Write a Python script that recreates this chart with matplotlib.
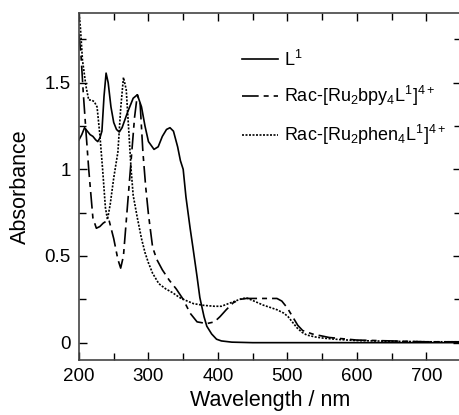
import matplotlib
matplotlib.use('Agg')
import matplotlib.pyplot as plt
from matplotlib.ticker import MultipleLocator

plt.rcParams['font.family'] = ['Liberation Sans', 'DejaVu Sans']
plt.rcParams['mathtext.fontset'] = 'custom'
plt.rcParams['mathtext.rm'] = 'Liberation Sans'
plt.rcParams['mathtext.it'] = 'Liberation Sans'

# L1 (solid)
wl_l1 = [200, 204, 208, 212, 216, 220, 224, 227, 230, 233, 236, 239, 242, 246, 250,
         254, 258, 262, 270, 278, 284, 290, 295, 300, 308, 314, 320, 326, 331, 336,
         342, 346, 350, 354, 360, 364, 370, 374, 380, 384, 391, 398, 405, 420, 450, 750]
abs_l1 = [1.17, 1.20, 1.24, 1.22, 1.20, 1.19, 1.17, 1.16, 1.18, 1.22, 1.42, 1.555, 1.50, 1.36, 1.27,
          1.23, 1.215, 1.24, 1.33, 1.41, 1.43, 1.36, 1.25, 1.16, 1.115, 1.13, 1.19, 1.23, 1.24, 1.22,
          1.13, 1.05, 1.0, 0.84, 0.66, 0.55, 0.38, 0.26, 0.15, 0.095, 0.05, 0.02, 0.01, 0.003, 0.0, 0.0]

# Rac-[Ru2bpy4L1]4+ (dashed)
wl_bpy = [200, 203, 206, 210, 214, 220, 225, 230, 235, 243, 250, 256, 260, 264, 270,
          275, 280, 284, 288, 292, 296, 300, 306, 312, 320, 330, 340, 350, 360, 370,
          384, 395, 403, 412, 422, 432, 441, 460, 485, 492, 500, 509, 515, 522, 536,
          560, 600, 650, 700, 750]
abs_bpy = [1.78, 1.65, 1.45, 1.22, 1.0, 0.72, 0.66, 0.67, 0.69, 0.71, 0.60, 0.48, 0.43, 0.50, 0.80,
           1.05, 1.30, 1.43, 1.38, 1.10, 0.90, 0.74, 0.55, 0.48, 0.42, 0.36, 0.31, 0.25, 0.17, 0.12,
           0.11, 0.12, 0.15, 0.19, 0.23, 0.25, 0.255, 0.255, 0.255, 0.24, 0.20, 0.14, 0.10, 0.07, 0.05,
           0.03, 0.015, 0.01, 0.005, 0.005]

# Rac-[Ru2phen4L1]4+ (dotted)
wl_phen = [200, 202, 205, 210, 214, 218, 222, 226, 230, 234, 238, 241, 245, 250, 256,
           260, 264, 268, 272, 275, 278, 284, 290, 295, 300, 306, 315, 325, 334, 345,
           353, 365, 380, 395, 405, 415, 425, 435, 442, 452, 465, 485, 495, 501, 507,
           514, 521, 528, 540, 552, 575, 600, 650, 700, 750]
abs_phen = [1.90, 1.82, 1.63, 1.48, 1.40, 1.40, 1.39, 1.36, 1.20, 1.0, 0.78, 0.71, 0.80, 0.95, 1.10,
            1.35, 1.53, 1.46, 1.20, 1.0, 0.85, 0.72, 0.60, 0.52, 0.46, 0.40, 0.34, 0.31, 0.29, 0.26,
            0.245, 0.225, 0.215, 0.21, 0.21, 0.225, 0.24, 0.255, 0.257, 0.24, 0.217, 0.19, 0.17, 0.15, 0.12,
            0.085, 0.06, 0.044, 0.033, 0.026, 0.018, 0.012, 0.008, 0.005, 0.005]

labels = [r'L$^\mathregular{1}$',
          r'Rac-[Ru$_\mathregular{2}$bpy$_\mathregular{4}$L$^\mathregular{1}$]$^\mathregular{4+}$',
          r'Rac-[Ru$_\mathregular{2}$phen$_\mathregular{4}$L$^\mathregular{1}$]$^\mathregular{4+}$']

fig = plt.figure(figsize=(4.6, 4.15), dpi=100)
ax = fig.add_axes([79 / 460, 55 / 415, 382 / 460, 346.7 / 415])

ax.plot(wl_l1, abs_l1, color='black', linewidth=1.2, linestyle='-', label=labels[0])
ax.plot(wl_bpy, abs_bpy, color='black', linewidth=1.2, linestyle=(0, (10, 3, 3, 3)), label=labels[1])
ax.plot(wl_phen, abs_phen, color='black', linewidth=1.2, linestyle=(0, (1.2, 0.9)), label=labels[2])

ax.set_xlim(200, 750)
ax.set_ylim(-0.1, 1.9)
ax.xaxis.set_major_locator(MultipleLocator(100))
ax.xaxis.set_minor_locator(MultipleLocator(50))
ax.yaxis.set_major_locator(MultipleLocator(0.5))
ax.yaxis.set_minor_locator(MultipleLocator(0.25))
ax.set_yticks([0, 0.5, 1, 1.5])
ax.set_yticklabels(['0', '0.5', '1', '1.5'])
ax.tick_params(which='both', direction='in', top=True, right=True, labelsize=13.5, width=1)
ax.tick_params(which='major', length=6, pad=6)
ax.tick_params(which='minor', length=5)
for s in ax.spines.values():
    s.set_linewidth(1.2)
    s.set_color('#444444')

ax.set_xlabel('Wavelength / nm', fontsize=15.5, labelpad=3)
ax.set_ylabel('Absorbance', fontsize=15.5, labelpad=10)

ax.legend(loc='upper left', bbox_to_anchor=(0.4267, 0.895), frameon=False, fontsize=13,
          borderpad=0, borderaxespad=0,
          handlelength=2.0, handletextpad=0.3, labelspacing=0.8)

fig.savefig('out.png', dpi=100)
